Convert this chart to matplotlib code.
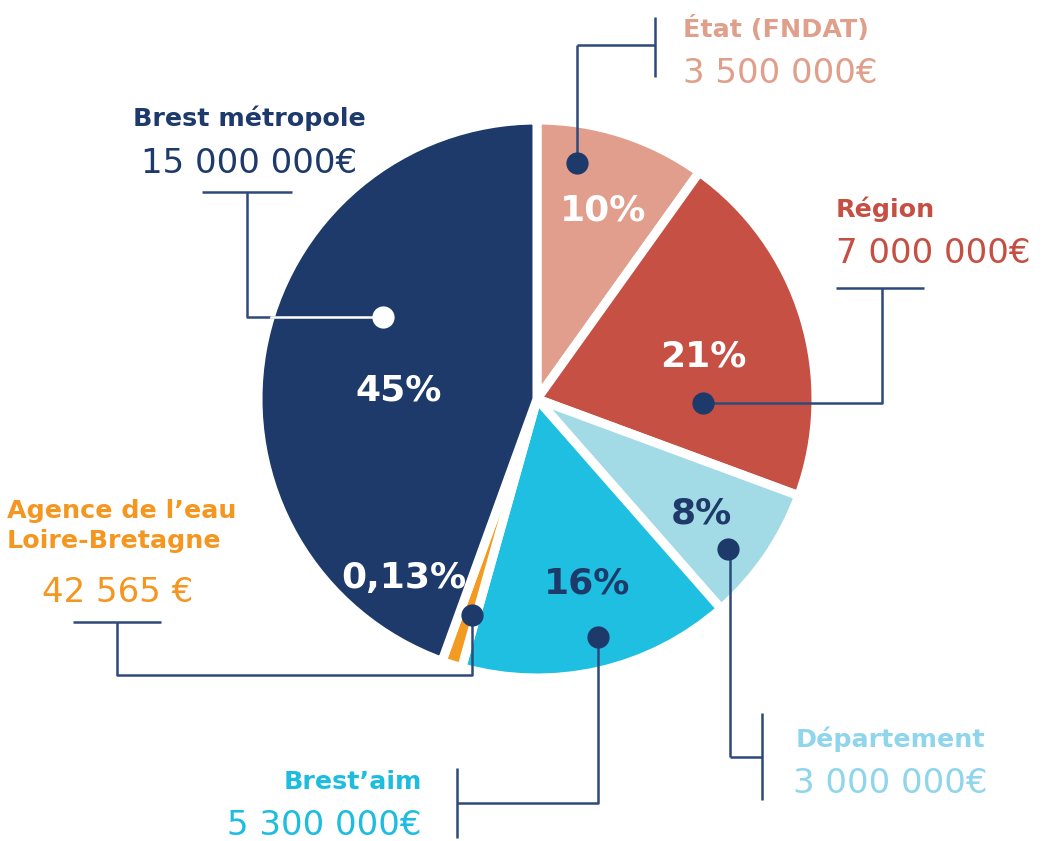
import matplotlib
matplotlib.use("Agg")
import matplotlib.pyplot as plt
import numpy as np

plt.rcParams['font.family'] = ['DejaVu Sans']

# données
financeurs = ["État (FNDAT)", "Région", "Département", "Brest’aim",
              "Agence de l’eau\nLoire-Bretagne", "Brest métropole"]
montants = [3500000, 7000000, 3000000, 5300000, 42565, 15000000]
montants_txt = ["3 500 000€", "7 000 000€", "3 000 000€", "5 300 000€",
                "42 565 €", "15 000 000€"]
pourcents = [10, 21, 8, 16, 0.13, 45]
pourcents_txt = ["10%", "21%", "8%", "16%", "0,13%", "45%"]

couleurs = ["#e19e8c", "#c75044", "#a2dbe6", "#1ebfe0", "#f39a22", "#1d3a6a"]
couleurs_txt = ["#e09f8b", "#c54f42", "#8fd5ec", "#1ebde0", "#f4961f", "#1e3a6a"]
couleurs_pct = ["white", "white", "#1d3a6a", "#1d3a6a", "white", "white"]
LIGNE = "#2c4a7b"
NAVY = "#1d3a6a"

W, H = 1044, 841
fig = plt.figure(figsize=(W / 100, H / 100), dpi=100)
ax = fig.add_axes([0, 0, 1, 1])


def Y(p):
    # coordonnées image (y vers le bas) -> axe (y vers le haut)
    return H - p


# parts dessinées d'après les pourcentages affichés ;
# l'agence (0,13%) reçoit une taille mini pour rester visible
parts = np.maximum(np.array(pourcents, dtype=float), 1.2)

wedges, _ = ax.pie(parts, colors=couleurs, startangle=90, counterclock=False,
                   center=(537, Y(399)), radius=279,
                   wedgeprops=dict(edgecolor="white", linewidth=6.5))
ax.set_xlim(0, W)
ax.set_ylim(0, H)
ax.set_aspect("equal")
ax.axis("off")

# pourcentages dans les parts
pos_pct = [(603, 210), (703, 356), (701, 513), (587, 584), (404, 578), (399, 390)]
for (x, y), t, c in zip(pos_pct, pourcents_txt, couleurs_pct):
    ax.text(x, Y(y), t, color=c, fontsize=26, fontweight="bold",
            ha="center", va="center")

# étiquettes extérieures : (x, baseline titre, baseline montant, alignement)
pos_lab = [(683, 37, 83, "left"), (836, 217, 263, "left"),
           (890, 747, 793, "center"), (422, 789, 835, "right"),
           (118, 518, 602, "center"), (249, 126, 173, "center")]
for (x, yt, yv, al), nom, m, c in zip(pos_lab, financeurs, montants_txt, couleurs_txt):
    if "\n" in nom:
        l1, l2 = nom.split("\n")
        ax.text(7, Y(yt), l1, color=c, fontsize=18.3, fontweight="bold",
                ha="left", va="baseline")
        ax.text(7, Y(yt + 30), l2, color=c, fontsize=18.3, fontweight="bold",
                ha="left", va="baseline")
    else:
        ax.text(x, Y(yt), nom, color=c, fontsize=18.3, fontweight="bold",
                ha=al, va="baseline")
    ax.text(x, Y(yv), m, color=c, fontsize=24.5, ha=al, va="baseline")

# traits de rappel
traits = [
    [[(655, 17), (655, 77)], [(577, 45), (655, 45)], [(577, 45), (577, 163)]],
    [[(836, 288), (924, 288)], [(882, 288), (882, 403), (703, 403)]],
    [[(202, 192), (292, 192)], [(247, 192), (247, 317), (383, 317)]],
    [[(73, 622), (161, 622)], [(117, 622), (117, 675), (472, 675), (472, 615)]],
    [[(762, 713), (762, 800)], [(730, 757), (762, 757)], [(730, 757), (730, 549)]],
    [[(457, 768), (457, 838)], [(457, 803), (598, 803), (598, 637)]],
]
for groupe in traits:
    for seg in groupe:
        xs = [p[0] for p in seg]
        ys = [Y(p[1]) for p in seg]
        ax.plot(xs, ys, color=LIGNE, lw=1.8, solid_capstyle="butt", zorder=3)

# trait blanc à l'intérieur de la part Brest métropole
l, = ax.plot([247, 383], [Y(317), Y(317)], color="white", lw=1.8, zorder=4)
l.set_clip_path(wedges[5])

points = [(577, 163), (703, 403), (728, 549), (598, 637), (472, 615), (383, 317)]
pt_col = [NAVY, NAVY, NAVY, NAVY, NAVY, "white"]
for (x, y), c in zip(points, pt_col):
    ax.plot(x, Y(y), "o", ms=16, color=c, mec="none", zorder=5)

fig.savefig("out.png", dpi=100)
